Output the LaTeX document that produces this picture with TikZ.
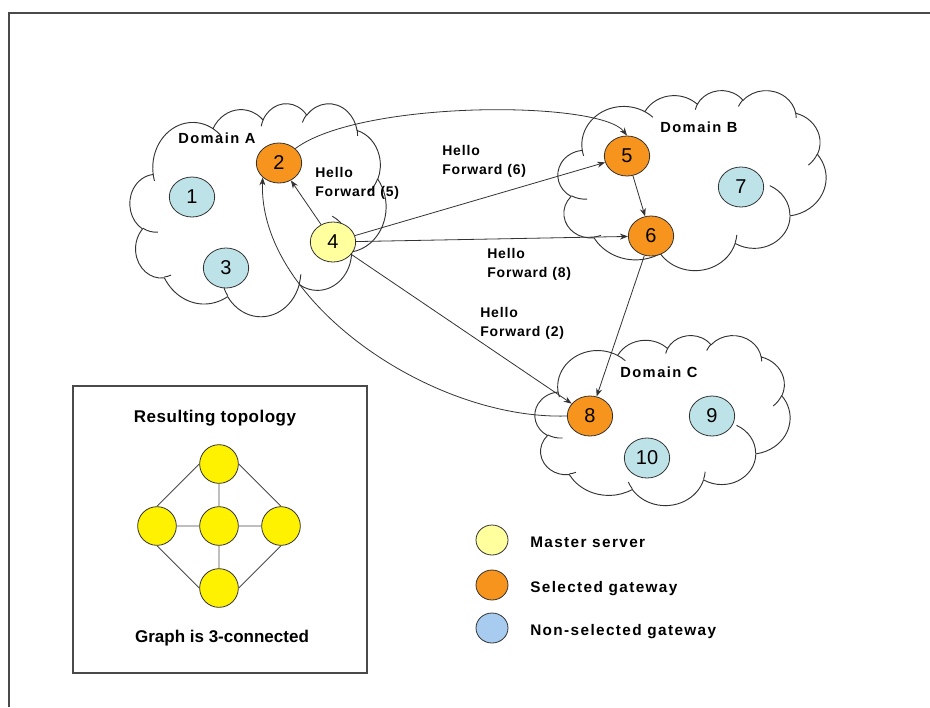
\documentclass[tikz,border=0pt]{standalone}
\usepackage{fontspec}
\setmainfont{Liberation Sans}
\newfontfamily\lblfont[LetterSpace=6]{Liberation Sans}
\newfontfamily\domfont[LetterSpace=10]{Liberation Sans}
\newfontfamily\legfont[LetterSpace=9]{Liberation Sans}
\newfontfamily\ttlfont[LetterSpace=3]{Liberation Sans}
\usetikzlibrary{shapes.geometric,arrows.meta}
\definecolor{gwsel}{HTML}{F7941D}
\definecolor{gwnon}{HTML}{BDE3E8}
\definecolor{master}{HTML}{FFFF9E}
\definecolor{legblue}{HTML}{A7CCF0}
\definecolor{ink}{HTML}{333333}
\definecolor{frame}{HTML}{4A4A4A}

% Cloud outline built from elliptical arcs in a 43.2 x 43.2 box;
% arc angles are visual angles, converted to parametric ones.
% #1,#2 = top-left corner, #3 = width, #4 = height
\newcommand\netcloud[4]{%
  \begin{scope}[shift={(#1,-#2)}, xscale=#3/43.2, yscale=-#4/43.2]
    \filldraw[cloudline, fill=white] (3.9,14.37)
      \foreach \w/\h/\s/\d in {
        6.753/9.190/-190.4875/123.7805, 5.333/7.267/-144.1024/89.9452,
        4.365/5.945/-145.8079/99.7230,  4.857/6.595/-130.9861/117.2417,
        5.333/7.273/-78.7089/109.0269,  6.775/9.220/-46.2673/130.2690,
        5.785/7.867/0.6250/114.0333,    6.752/9.215/22.4516/115.1726,
        7.720/10.543/66.2426/75.7110,   4.360/5.918/-274.9421/146.7356,
        4.345/5.945/-246.8285/152.5189}
      { arc[x radius=\w, y radius=\h,
            start angle={atan2(\w*sin(\s),\h*cos(\s))},
            delta angle={mod(atan2(\w*sin(\s+\d),\h*cos(\s+\d))-atan2(\w*sin(\s),\h*cos(\s))-\d+900,360)-180+\d}] }
      -- cycle;
    \draw[cloudline]
      \foreach \px/\py/\w/\h/\s/\d in {
        4.693/26.177/4.345/5.945/86.7420/26.4295,
        6.928/34.899/4.360/5.918/73.6105/11.4475,
        16.478/39.090/6.752/9.215/137.6242/14.0811,
        28.827/34.751/6.752/9.215/6.4533/15.9984,
        34.129/22.954/5.785/7.867/-70.2924/70.9174,
        41.798/15.354/5.333/7.273/30.3180/27.7515,
        38.324/5.426/4.857/6.595/-13.7443/14.8589,
        29.078/3.952/4.857/6.595/-149.1815/18.1954,
        22.141/4.720/4.365/5.945/-163.4943/17.6864,
        14.000/5.192/6.753/9.190/-66.7070/12.3194,
        4.127/15.789/6.753/9.190/157.6544/11.8582}
      { (\px,\py) arc[x radius=\w, y radius=\h,
            start angle={atan2(\w*sin(\s),\h*cos(\s))},
            delta angle={mod(atan2(\w*sin(\s+\d),\h*cos(\s+\d))-atan2(\w*sin(\s),\h*cos(\s))-\d+900,360)-180+\d}] };
  \end{scope}}

\begin{document}
\begin{tikzpicture}[x=0.75pt,y=0.75pt,
  cloudline/.style={draw=ink, line width=0.7pt, line join=round},
  gnode/.style={ellipse, draw=ink, line width=0.6pt, minimum width=34pt,
    minimum height=30pt, inner sep=0pt, font=\fontsize{15}{15}\selectfont},
  sel/.style={gnode, fill=gwsel},
  non/.style={gnode, fill=gwnon},
  mst/.style={gnode, fill=master},
  arr/.style={-{Stealth[length=6pt,width=4.5pt]}, line width=0.6pt, draw=ink},
  lbl/.style={align=left, anchor=north west, inner sep=0pt,
    font=\lblfont\bfseries\fontsize{10.5}{14.25}\selectfont},
  dom/.style={anchor=north west, inner sep=0pt,
    font=\domfont\bfseries\fontsize{11}{12}\selectfont},
  leg/.style={anchor=base west, inner sep=0pt,
    font=\legfont\bfseries\fontsize{11.5}{12}\selectfont},
  ttl/.style={anchor=base, inner sep=0pt,
    font=\ttlfont\bfseries\fontsize{12.75}{14}\selectfont},
  legdot/.style={ellipse, draw=ink, line width=0.6pt, minimum width=24pt,
    minimum height=22.5pt, inner sep=0pt},
  topo/.style={circle, draw=ink, line width=0.6pt, fill=yellow,
    minimum size=29pt, inner sep=0pt},
  tedge/.style={draw=frame, line width=0.6pt}]
\useasboundingbox (0,0) rectangle (930,-707);
\fill[white] (0,0) rectangle (930,-707);

% outer frame
\draw[frame, line width=1.6pt] (9,-707) -- (9,-13) -- (930,-13);

% domains
\netcloud{130}{103}{256}{213}
\netcloud{558}{90}{268}{180}
\netcloud{535}{335}{255}{170}

\node[dom] (dA) at (178,-133) {Domain A};
\node[dom] (dB) at (660,-122) {Domain B};
\node[dom] (dC) at (620,-367) {Domain C};

% gateways and master server
\node[non] (n1) at (192,-197) {1};
\node[sel] (n2) at (279,-163) {2};
\node[non] (n3) at (226,-268) {3};
\node[mst] (n4) at (333,-242) {4};
\node[sel] (n5) at (627,-156) {5};
\node[sel] (n6) at (651,-236) {6};
\node[non] (n7) at (741,-187) {7};
\node[sel] (n8) at (590,-416) {8};
\node[non] (n9) at (712,-416) {9};
\node[non] (n10) at (647,-458) {10};

% hello forwarding
\draw[arr] (n4) -- (n2);
\draw[arr] (n4) -- (n5);
\draw[arr] (n4) -- (n6);
\draw[arr] (n4) -- (n8);
\draw[arr] (n5) -- (n6);
\draw[arr] (n6) -- (n8);
\draw[arr] (n2.north east) .. controls (360,-100) and (600,-100) .. (n5.north);
\draw[arr] (n8.west) .. controls (430,-420) and (258,-300) .. (n2.south west);

\node[lbl] (h5) at (315,-167) {Hello\\Forward (5)};
\node[lbl] (h6) at (442,-145) {Hello\\Forward (6)};
\node[lbl] (h8) at (487,-248) {Hello\\Forward (8)};
\node[lbl] (h2) at (480,-307) {Hello\\Forward (2)};

% legend
\node[legdot, fill=master] (l1) at (492,-540) {};
\node[legdot, fill=gwsel] (l2) at (492,-585) {};
\node[legdot, fill=legblue] (l3) at (492,-628) {};
\node[leg] (t1) at (530,-547) {Master server};
\node[leg] (t2) at (530,-592) {Selected gateway};
\node[leg] (t3) at (530,-635) {Non-selected gateway};

% resulting topology inset
\draw[frame, line width=0.9pt] (73,-386) rectangle (367,-673);
\node[ttl] (rt) at (215,-422) {Resulting topology};
\node[anchor=base, inner sep=0pt, font=\bfseries\fontsize{12.75}{14}\selectfont]
  (rc) at (222,-642) {Graph is 3-connected};
\node[topo] (tT) at (219,-464) {};
\node[topo] (tL) at (157,-526) {};
\node[topo] (tC) at (219,-526) {};
\node[topo] (tR) at (281,-526) {};
\node[topo] (tB) at (219,-588) {};
\draw[tedge] (tT.west) -- (tL.north) (tT.east) -- (tR.north)
  (tB.west) -- (tL.south) (tB.east) -- (tR.south)
  (tC) -- (tT) (tC) -- (tB) (tC) -- (tL) (tC) -- (tR);
\end{tikzpicture}
\end{document}
